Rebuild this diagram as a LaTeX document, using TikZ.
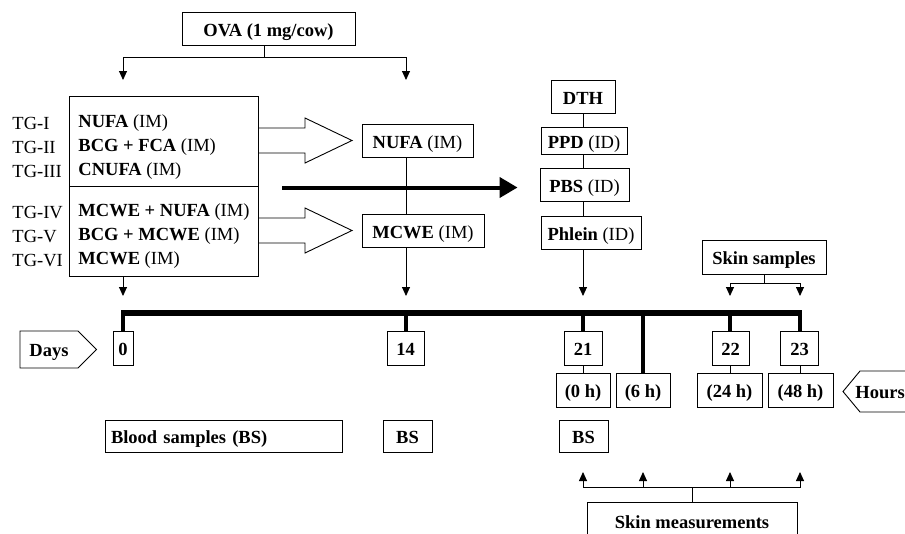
\documentclass[tikz,border=0pt]{standalone}
\usepackage{fontspec}
\setmainfont{Liberation Serif}
\usetikzlibrary{arrows.meta,calc,positioning,shapes.symbols}

\begin{document}
\fontsize{18.5}{24}\selectfont
\begin{tikzpicture}[x=1pt,y=-1pt,line width=0.9pt,
  bx/.style={draw,minimum height=33,inner sep=0,text height=16pt,text depth=1pt},
  grp/.style={draw,minimum width=189,minimum height=90},
  lst/.style={align=left,inner sep=0,anchor=west},
  tip/.style={-{Triangle[width=8pt,length=9pt]}},
  tl/.style={line width=5.5pt},
  tk/.style={line width=4pt},
  tag/.style={draw,shape=signal,font=\bfseries,text height=15pt,text depth=2pt}]
\clip (0,0) rectangle (905,533);
\node[bx,minimum width=173,font=\bfseries] (ova) at (268.5,28.5) {OVA (1 mg/cow)};
\node[grp] (g1) at (163.5,141) {};
\node[grp] (g2) at (163.5,231) {};
\node[lst] (t1) at (78,147.4) {\textbf{NUFA} (IM)\\\textbf{BCG + FCA} (IM)\\\textbf{CNUFA} (IM)};
\node[lst] (t2) at (78,236.4) {\textbf{MCWE + NUFA} (IM)\\\textbf{BCG + MCWE} (IM)\\\textbf{MCWE} (IM)};
\node[lst] (tg1) at (12,147.4) {TG-I\\TG-II\\TG-III};
\node[lst] (tg2) at (12,236.4) {TG-IV\\TG-V\\TG-VI};
\node[bx,minimum width=111] (nufa) at (417.5,140.5) {\textbf{NUFA} (IM)};
\node[bx,minimum width=122] (mcwe) at (423,230.5) {\textbf{MCWE} (IM)};
\node[bx,minimum width=64,font=\bfseries] (dth) at (583,96.5) {DTH};
\node[bx,minimum width=86,minimum height=27] (ppd) at (584,140.5) {\textbf{PPD} (ID)};
\node[bx,minimum width=89] (pbs) at (584.5,184.5) {\textbf{PBS} (ID)};
\node[bx,minimum width=100] (phl) at (591,232.5) {\textbf{Phlein} (ID)};
\node[bx,minimum width=124,minimum height=34,font=\bfseries] (skin) at (764,257) {Skin samples};

\coordinate (d0) at (123,313);
\coordinate (d14) at (406,313);
\coordinate (d21) at (583,313);
\coordinate (h6) at (643,313);
\coordinate (d22) at (730,313);
\coordinate (d23) at (800,313);
\coordinate (atop) at (0,296);
\coordinate (mtop) at (0,472);

\node[bx,minimum width=20,minimum height=34,font=\bfseries] (n0) at (123,348) {0};
\node[bx,minimum width=37,minimum height=34,font=\bfseries] (n14) at (405.5,348) {14};
\node[bx,minimum width=38,minimum height=34,font=\bfseries] (n21) at (583,348) {21};
\node[bx,minimum width=37,minimum height=34,font=\bfseries] (n22) at (730.5,348) {22};
\node[bx,minimum width=38,minimum height=34,font=\bfseries] (n23) at (799.5,348) {23};
\node[bx,minimum width=54,minimum height=34,font=\bfseries] (hr0) at (583,390) {(0 h)};
\node[bx,minimum width=54,minimum height=34,font=\bfseries] (hr6) at (643,390) {(6 h)};
\node[bx,minimum width=65,minimum height=34,font=\bfseries] (hr24) at (729.5,390) {(24 h)};
\node[bx,minimum width=65,minimum height=34,font=\bfseries] (hr48) at (800.5,390) {(48 h)};
\node[tag,signal to=east,signal pointer angle=90,minimum height=37,inner xsep=9.5,inner ysep=0] (days) at (49,349.5) {Days};
\node[anchor=west,inner sep=0,font=\bfseries,text height=15pt,text depth=2pt] (hours) at (855,391.5) {Hours};
\draw (910,371) -- (860,371) -- (hours.west -| 843,0) -- (860,412) -- (910,412);

\node[bx,minimum width=237,minimum height=32,font=\bfseries,text width=225,align=left] (blood) at (223.5,436) {Blood samples (BS)};
\node[bx,minimum width=49,minimum height=32,font=\bfseries] (bs14) at (407.5,436) {BS};
\node[bx,minimum width=49,minimum height=32,font=\bfseries] (bs21) at (583.5,436) {BS};
\node[bx,minimum width=210,minimum height=38,font=\bfseries] (skm) at (692,521) {Skin measurements};

\coordinate (ojoin) at (264,57);
\draw (ojoin |- ova.south) -- (ojoin);
\draw[tip] (ojoin) -| (d0 |- 0,80);
\draw[tip] (ojoin) -| (d14 |- 0,80);

\draw (258,128) -- (305,128) -- (305,118) -- (352,140.5) -- (305,163) -- (305,153) -- (258,153);
\draw (258,218) -- (305,218) -- (305,208) -- (352,230.5) -- (305,253) -- (305,243) -- (258,243);

\coordinate (ts) at (282,187.5);
\draw[line width=4pt,-{Triangle[width=20pt,length=18pt]}] (ts) -- ([xshift=-22pt]ts -| pbs.west);

\draw (nufa.south -| d14) -- (mcwe.north -| d14);
\path (dth.south) edge (dth.south |- ppd.north)
  (dth.south |- ppd.south) edge (dth.south |- pbs.north)
  (dth.south |- pbs.south) edge (dth.south |- phl.north);

\path[tip] (g2.south -| d0) edge (d0 |- atop)
  (mcwe.south -| d14) edge (d14 |- atop)
  (phl.south -| d21) edge (d21 |- atop);

\coordinate (sj) at (764,283);
\draw (skin.south) -- (sj);
\draw[tip] (sj) -| (d22 |- atop);
\draw[tip] (sj) -| (d23 |- atop);

\draw[tl] ([xshift=-2pt]d0) -- ([xshift=2pt]d23);
\draw[tk] (d0) -- (n0.north);
\draw[tk] (d14) -- (d14 |- n14.north);
\draw[tk] (d21) -- (n21.north);
\draw[tk] (h6) -- (hr6.north);
\draw[tk] (d22) -- (d22 |- n22.north);
\draw[tk] (d23) -- (d23 |- n23.north);
\draw (n21) -- (hr0);
\draw (d22 |- n22.south) -- (d22 |- hr24.north);
\draw (d23 |- n23.south) -- (d23 |- hr48.north);

\coordinate (mj) at (692,487);
\draw (skm.north) -- (mj);
\foreach \c in {d21,h6,d22,d23}
  \draw[tip] (mj) -| (\c |- mtop);
\end{tikzpicture}
\end{document}
